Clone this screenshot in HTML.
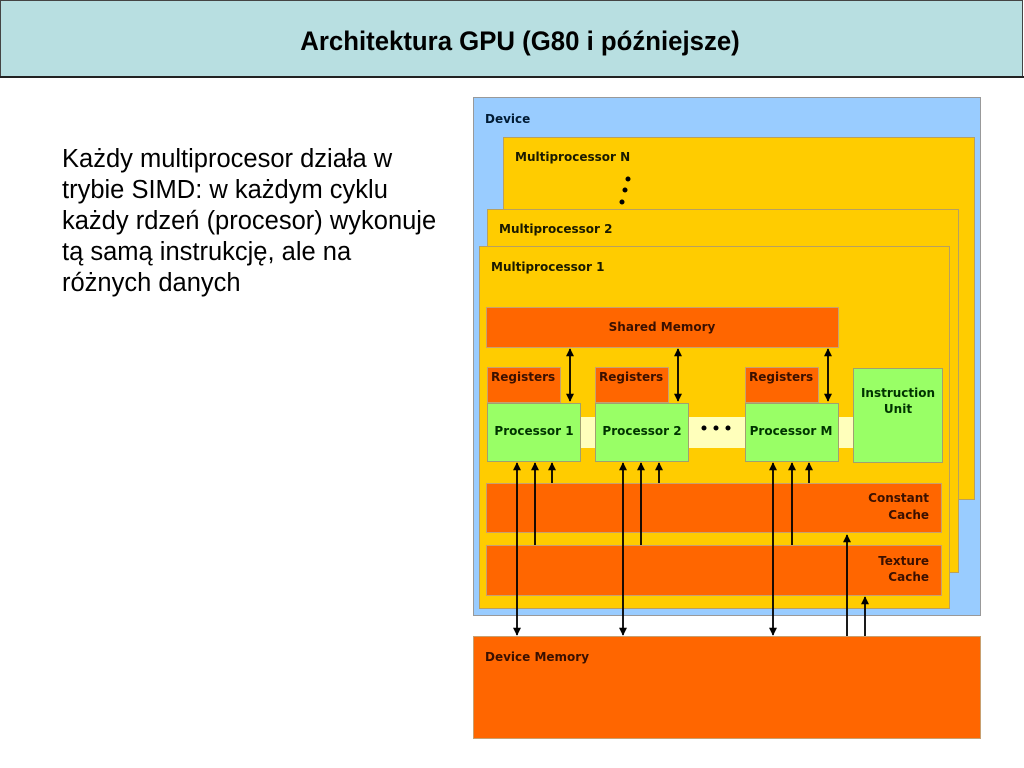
<!DOCTYPE html>
<html><head><meta charset="utf-8"><style>
html,body{margin:0;padding:0;background:#fff;width:1024px;height:768px;overflow:hidden}
svg{display:block}
.t{font-family:"DejaVu Sans",sans-serif;font-weight:bold;font-size:12px}
</style></head><body>
<svg width="1024" height="768" viewBox="0 0 1024 768" xmlns="http://www.w3.org/2000/svg">
<defs>
<marker id="a" viewBox="0 0 10 10" refX="9" refY="5" markerWidth="9" markerHeight="8" orient="auto-start-reverse" markerUnits="userSpaceOnUse"><path d="M0,0 L10,5 L0,10 z" fill="#000"/></marker>
</defs>
<rect x="0.5" y="0.5" width="1022" height="76" fill="#b8dfe1" stroke="#444" stroke-width="1"/>
<line x1="0" y1="77" x2="1024" y2="77" stroke="#222" stroke-width="2"/>
<g transform="translate(520,50) scale(0.955,1)">
<text x="0" y="0" text-anchor="middle" font-family="Liberation Sans, sans-serif" font-weight="bold" font-size="27">Architektura GPU (G80 i późniejsze)</text>
</g>
<g font-family="Liberation Sans, sans-serif" font-size="25.5" fill="#000">
<text x="62" y="167">Każdy multiprocesor działa w</text>
<text x="62" y="198">trybie SIMD: w każdym cyklu</text>
<text x="62" y="229">każdy rdzeń (procesor) wykonuje</text>
<text x="62" y="260">tą samą instrukcję, ale na</text>
<text x="62" y="291">różnych danych</text>
</g>
<rect x="473.5" y="97.5" width="507" height="518" fill="#99ccff" stroke="#999"/>
<text class="t" x="485" y="123" fill="#001a33">Device</text>
<rect x="503.5" y="137.5" width="471" height="362" fill="#ffcc00" stroke="#b8a060"/>
<text class="t" x="515" y="161" font-size="11.5" fill="#1a1a00">Multiprocessor N</text>
<circle cx="628" cy="179" r="2.5"/><circle cx="625" cy="190" r="2.5"/><circle cx="622" cy="202" r="2.5"/>
<rect x="487.5" y="209.5" width="471" height="363" fill="#ffcc00" stroke="#b8a060"/>
<text class="t" x="499" y="233" font-size="11.5" fill="#1a1a00">Multiprocessor 2</text>
<rect x="479.5" y="246.5" width="470" height="362" fill="#ffcc00" stroke="#b8a060"/>
<text class="t" x="491" y="271" font-size="11.5" fill="#1a1a00">Multiprocessor 1</text>
<rect x="486.5" y="307.5" width="352" height="40" fill="#ff6600" stroke="#c8a070"/>
<text class="t" x="662" y="331" text-anchor="middle" font-size="11.5" fill="#3a1000">Shared Memory</text>
<rect x="580" y="417" width="273" height="31" fill="#ffffbb"/>
<g fill="#ff6600" stroke="#c8a070">
<rect x="487.5" y="367.5" width="73" height="35"/>
<rect x="595.5" y="367.5" width="73" height="35"/>
<rect x="745.5" y="367.5" width="73" height="35"/>
</g>
<g class="t" font-size="12" fill="#3a1000">
<text x="491" y="381">Registers</text>
<text x="599" y="381">Registers</text>
<text x="749" y="381">Registers</text>
</g>
<g fill="#99ff66" stroke="#a0a070">
<rect x="487.5" y="403.5" width="93" height="58"/>
<rect x="595.5" y="403.5" width="93" height="58"/>
<rect x="745.5" y="403.5" width="93" height="58"/>
<rect x="853.5" y="368.5" width="89" height="94"/>
</g>
<g class="t" font-size="12" fill="#003300">
<text x="534" y="435" text-anchor="middle">Processor 1</text>
<text x="642" y="435" text-anchor="middle">Processor 2</text>
<text x="791" y="435" text-anchor="middle">Processor M</text>
<text x="898" y="397" text-anchor="middle">Instruction</text>
<text x="898" y="413" text-anchor="middle">Unit</text>
</g>
<circle cx="704" cy="428" r="2.5"/><circle cx="716" cy="428" r="2.5"/><circle cx="728" cy="428" r="2.5"/>
<rect x="486.5" y="483.5" width="455" height="49" fill="#ff6600" stroke="#c8a070"/>
<rect x="486.5" y="545.5" width="455" height="50" fill="#ff6600" stroke="#c8a070"/>
<g class="t" font-size="12" fill="#3a1000" text-anchor="end">
<text x="929" y="502">Constant</text><text x="929" y="519">Cache</text>
<text x="929" y="565">Texture</text><text x="929" y="581">Cache</text>
</g>
<rect x="473.5" y="636.5" width="507" height="102" fill="#ff6600" stroke="#c8a070"/>
<text class="t" x="485" y="661" font-size="12" fill="#3a1000">Device Memory</text>
<g stroke="#000" stroke-width="1.8" fill="none">
<line x1="570" y1="349" x2="570" y2="401" marker-start="url(#a)" marker-end="url(#a)"/>
<line x1="678" y1="349" x2="678" y2="401" marker-start="url(#a)" marker-end="url(#a)"/>
<line x1="828" y1="349" x2="828" y2="401" marker-start="url(#a)" marker-end="url(#a)"/>
<line x1="517" y1="463" x2="517" y2="635" marker-start="url(#a)" marker-end="url(#a)"/>
<line x1="623" y1="463" x2="623" y2="635" marker-start="url(#a)" marker-end="url(#a)"/>
<line x1="773" y1="463" x2="773" y2="635" marker-start="url(#a)" marker-end="url(#a)"/>
<line x1="535" y1="545" x2="535" y2="463" marker-end="url(#a)"/>
<line x1="641" y1="545" x2="641" y2="463" marker-end="url(#a)"/>
<line x1="792" y1="545" x2="792" y2="463" marker-end="url(#a)"/>
<line x1="552" y1="483" x2="552" y2="463" marker-end="url(#a)"/>
<line x1="659" y1="483" x2="659" y2="463" marker-end="url(#a)"/>
<line x1="809" y1="483" x2="809" y2="463" marker-end="url(#a)"/>
<line x1="847" y1="636" x2="847" y2="535" marker-end="url(#a)"/>
<line x1="865" y1="636" x2="865" y2="597" marker-end="url(#a)"/>
</g>
</svg>
</body></html>
